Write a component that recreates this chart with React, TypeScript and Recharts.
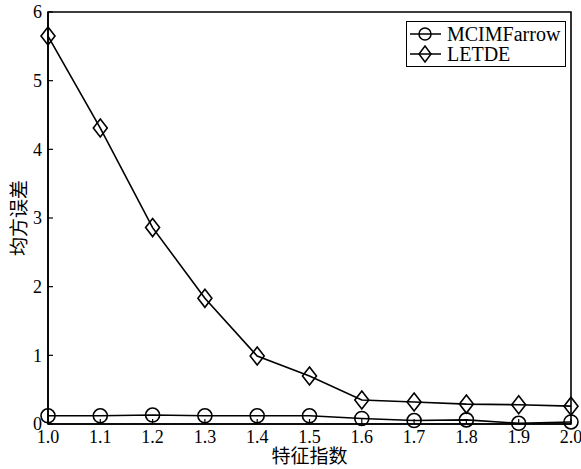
import { LineChart, Line, XAxis, YAxis, Legend, ReferenceArea } from 'recharts';

const indices = [1.0, 1.1, 1.2, 1.3, 1.4, 1.5, 1.6, 1.7, 1.8, 1.9, 2.0];
const mcimFarrow = [0.12, 0.12, 0.13, 0.12, 0.12, 0.12, 0.08, 0.05, 0.06, 0.01, 0.03];
const letde = [5.65, 4.31, 2.86, 1.83, 0.99, 0.7, 0.35, 0.32, 0.29, 0.28, 0.26];
const xTicks = [1.0, 1.1, 1.2, 1.3, 1.4, 1.5, 1.6, 1.7, 1.8, 1.9, 2.0];
const yTicks = [0, 1, 2, 3, 4, 5, 6];

const data = indices.map((x, i) => ({ x, mcim: mcimFarrow[i], letde: letde[i] }));

const serif = '"Liberation Serif", "Times New Roman", serif';
const cjk = '"Noto Sans CJK SC", sans-serif';

function CircleDot(props: any) {
  const { cx, cy } = props;
  if (cx == null || cy == null) return null;
  return <circle cx={cx} cy={cy} r={7} fill="none" stroke="#000" strokeWidth={1.6} />;
}

function DiamondDot(props: any) {
  const { cx, cy } = props;
  if (cx == null || cy == null) return null;
  const w = 7, h = 9;
  return (
    <path
      d={`M${cx},${cy - h}L${cx + w},${cy}L${cx},${cy + h}L${cx - w},${cy}Z`}
      fill="none"
      stroke="#000"
      strokeWidth={1.6}
    />
  );
}

const EmptyTick = () => <g />;

function LegendBox() {
  const rows = [
    { name: 'MCIMFarrow', marker: <circle cx={16} cy={10} r={6} fill="none" stroke="#000" strokeWidth={1.5} /> },
    { name: 'LETDE', marker: <path d="M16,2L22,10L16,18L10,10Z" fill="none" stroke="#000" strokeWidth={1.5} /> },
  ];
  return (
    <div style={{ border: '1.5px solid #000', background: '#fff', padding: '2px 4px 2px 2px', width: 160, boxSizing: 'border-box' }}>
      {rows.map((r) => (
        <div key={r.name} style={{ display: 'flex', alignItems: 'center', height: 20 }}>
          <svg width={34} height={20}>
            <line x1={1} y1={10} x2={32} y2={10} stroke="#000" strokeWidth={1.5} />
            {r.marker}
          </svg>
          <span style={{ fontFamily: serif, fontSize: 20, marginLeft: 4, lineHeight: '20px' }}>{r.name}</span>
        </div>
      ))}
    </div>
  );
}

export default function App() {
  return (
    <div style={{ position: 'absolute', left: 0, top: 0, width: 581, height: 469, background: '#fff' }}>
      <LineChart width={581} height={469} data={data} margin={{ top: 12, right: 10, bottom: 0, left: 0 }}>
        <ReferenceArea x1={1} x2={2} y1={0} y2={6} fill="none" stroke="#000" strokeWidth={1.6} ifOverflow="visible" />
        <XAxis
          dataKey="x"
          type="number"
          domain={[1, 2]}
          ticks={xTicks}
          tickFormatter={(v: number) => v.toFixed(1)}
          height={45}
          axisLine={{ stroke: '#000', strokeWidth: 1.6 }}
          tickLine={false}
          tickSize={0}
          tickMargin={6}
          tick={{ fill: '#000', fontFamily: serif, fontSize: 18 }}
          interval={0}
          label={{ value: '特征指数', position: 'center', dy: 10, fill: '#000', fontFamily: cjk, fontSize: 19 }}
        />
        <XAxis
          xAxisId="inner"
          dataKey="x"
          type="number"
          domain={[1, 2]}
          ticks={xTicks}
          mirror
          axisLine={false}
          tick={EmptyTick}
          tickLine={{ stroke: '#000', strokeWidth: 1.2 }}
          tickSize={5}
          interval={0}
        />
        <YAxis
          type="number"
          domain={[0, 6]}
          ticks={yTicks}
          width={48}
          axisLine={{ stroke: '#000', strokeWidth: 1.6 }}
          tickLine={false}
          tickSize={0}
          tickMargin={6}
          tick={{ fill: '#000', fontFamily: serif, fontSize: 18 }}
          interval={0}
          label={{ value: '均方误差', angle: -90, position: 'center', dx: -5, fill: '#000', fontFamily: cjk, fontSize: 19 }}
        />
        <YAxis
          yAxisId="inner"
          type="number"
          domain={[0, 6]}
          ticks={yTicks}
          mirror
          axisLine={false}
          tick={EmptyTick}
          tickLine={{ stroke: '#000', strokeWidth: 1.2 }}
          tickSize={5}
          interval={0}
        />
        <Legend
          layout="vertical"
          align="center"
          verticalAlign="middle"
          content={() => <LegendBox />}
          wrapperStyle={{ position: 'absolute', left: 406, top: 21, width: 162 }}
        />
        <Line
          xAxisId="inner"
          yAxisId="inner"
          dataKey="letde"
          stroke="none"
          dot={false}
          activeDot={false}
          legendType="none"
          isAnimationActive={false}
        />
        <Line
          dataKey="mcim"
          name="MCIMFarrow"
          stroke="#000"
          strokeWidth={1.6}
          dot={<CircleDot />}
          activeDot={false}
          isAnimationActive={false}
        />
        <Line
          dataKey="letde"
          name="LETDE"
          stroke="#000"
          strokeWidth={1.6}
          dot={<DiamondDot />}
          activeDot={false}
          isAnimationActive={false}
        />
      </LineChart>
    </div>
  );
}
